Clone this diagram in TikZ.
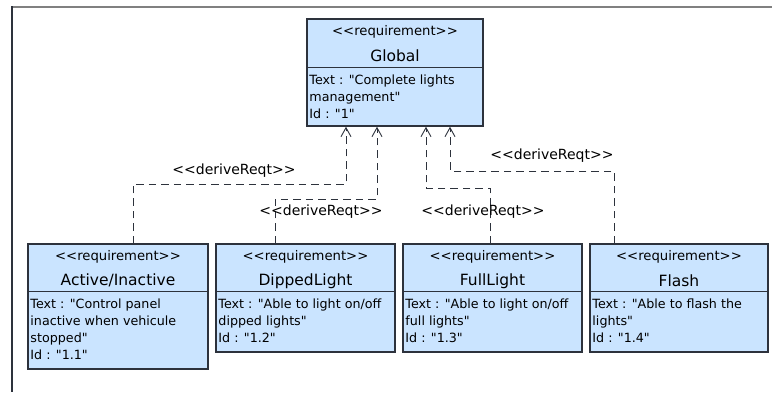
\documentclass[tikz,border=0pt]{standalone}
\usepackage{fontspec}
\setmainfont{DejaVu Sans}[Ligatures=TeXOff]
\usetikzlibrary{arrows.meta}
\definecolor{reqfill}{RGB}{202,228,255}
\definecolor{reqline}{RGB}{45,50,60}
\definecolor{framegray}{RGB}{128,128,128}

\tikzset{
  reqbox/.style={draw=reqline, fill=reqfill, line width=1.5pt, rectangle, inner sep=0pt},
  stereo/.style={font=\fontsize{13.2}{15}\selectfont, inner sep=0pt},
  rname/.style={font=\fontsize{15.5}{18}\selectfont, inner sep=0pt},
  divider/.style={draw=reqline, line width=1.1pt},
  bodytext/.style={font=\fontsize{12.7}{17}\selectfont, align=left, anchor=north west, inner sep=0pt},
  dep/.style={draw=reqline, line width=1pt, dash pattern=on 7.5pt off 5pt,
    -{Straight Barb[length=9pt,width=10pt,line width=0.9pt]}},
  deplabel/.style={font=\fontsize{14}{16}\selectfont, inner sep=0pt},
}

% #1 node name, #2 left, #3 top, #4 right, #5 bottom, #6 divider depth, #7 title, #8 body
\newcommand{\reqblock}[8]{%
  \node[reqbox, minimum width={(#4-#2)*1pt}, minimum height={(#5-#3)*1pt}]
    (#1) at ({(#2+#4)/2},{(#3+#5)/2}) {};
  \node[stereo] (#1-st) at ([yshift=-13.5pt]#1.north) {<<requirement>>};
  \node[rname] (#1-nm) at ([yshift=-37.5pt]#1.north) {#7};
  \draw[divider] ([yshift={-(#6)*1pt}]#1.north west) -- ([yshift={-(#6)*1pt}]#1.north east);
  \node[bodytext] (#1-tx) at ([xshift=3pt,yshift={-(#6+7.5)*1pt}]#1.north west) {#8};
}

\begin{document}
\begin{tikzpicture}[x=1pt,y=-1pt]
  \useasboundingbox (0,0) rectangle (772,392);
  \fill[white] (0,0) rectangle (772,392);

  % diagram frame
  \draw[framegray, line width=2pt] (11,6.5) -- (772,6.5);
  \draw[reqline, line width=1.5pt] (12,6) -- (12,392);

  % requirements
  \reqblock{g}{307}{19}{483}{126}{49}{Global}
    {Text : "Complete lights\\management"\\Id : "1"}
  \reqblock{b1}{28}{244}{208}{369}{48}{Active/Inactive}
    {Text : "Control panel\\inactive when vehicule\\stopped"\\Id : "1.1"}
  \reqblock{b2}{216}{244}{395}{352}{48}{DippedLight}
    {Text : "Able to light on/off\\dipped lights"\\Id : "1.2"}
  \reqblock{b3}{403}{244}{582}{352}{48}{FullLight}
    {Text : "Able to light on/off\\full lights"\\Id : "1.3"}
  \reqblock{b4}{590}{244}{768}{352}{48}{Flash}
    {Text : "Able to flash the\\lights"\\Id : "1.4"}

  % deriveReqt dependencies
  \draw[dep] ([xshift=15pt]b1.north) -- (133,184) -| ([xshift=-49pt]g.south);
  \draw[dep] ([xshift=-30.5pt]b2.north) -- (275,199) -| ([xshift=-18pt]g.south);
  \draw[dep] ([xshift=-2.5pt]b3.north) -- (490,188) -| ([xshift=31pt]g.south);
  \draw[dep] ([xshift=-65pt]b4.north) -- (614,171) -| ([xshift=55pt]g.south);

  \node[deplabel] (l1) at (234,171) {<<deriveReqt>>};
  \node[deplabel] (l2) at (321,212) {<<deriveReqt>>};
  \node[deplabel] (l3) at (483,212) {<<deriveReqt>>};
  \node[deplabel] (l4) at (552,156) {<<deriveReqt>>};
\end{tikzpicture}
\end{document}
